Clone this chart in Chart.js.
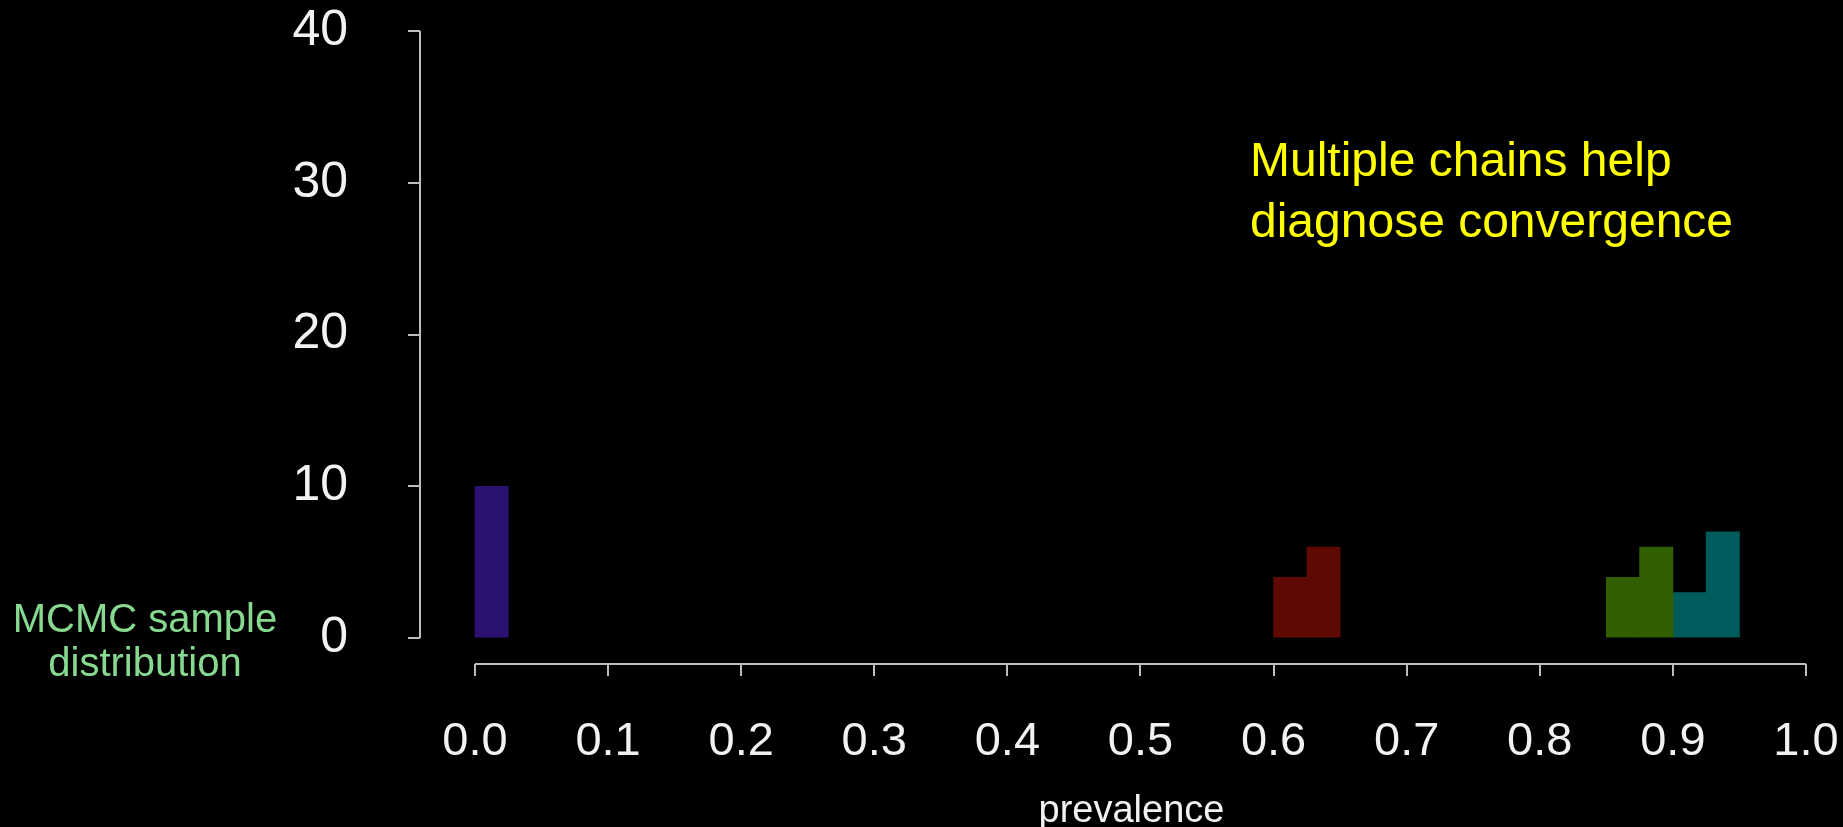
<!DOCTYPE html>
<html>
<head>
<meta charset="utf-8">
<script src="https://cdn.jsdelivr.net/npm/chart.js@4"></script>
<style>
  html, body { margin: 0; padding: 0; background: #000; overflow: hidden; }
  canvas { display: block; }
</style>
</head>
<body>
<canvas id="hist" width="1843" height="827"></canvas>
<script>
// histogram bins (left edges) and counts, one pair per chain
const binWidth = 0.025;
const purpleStarts = [0.0];
const purpleCounts = [10];
const redStarts = [0.6, 0.625];
const redCounts = [4, 6];
const greenStarts = [0.85, 0.875];
const greenCounts = [4, 6];
const tealStarts = [0.9, 0.925];
const tealCounts = [3, 7];

const xTickValues = [0, 0.1, 0.2, 0.3, 0.4, 0.5, 0.6, 0.7, 0.8, 0.9, 1.0];
const yTickValues = [0, 10, 20, 30, 40];

const noteLines = ['Multiple chains help', 'diagnose convergence'];
const sideLines = ['MCMC sample', 'distribution'];

function binsToPoints(starts, counts) {
    return starts.map((s, i) => ({ x: s + binWidth / 2, y: counts[i] }));
}

function chain(starts, counts, color) {
    return {
        data: binsToPoints(starts, counts),
        backgroundColor: color,
        borderWidth: 0,
        barPercentage: 1.0,
        categoryPercentage: 1.0,
        grouped: false
    };
}

// axis lines only over the data range, like base R graphics
const axisLines = {
    id: 'axisLines',
    afterDraw(chart) {
        const ctx = chart.ctx;
        const xs = chart.scales.x, ys = chart.scales.y;
        const area = chart.chartArea;
        ctx.save();
        ctx.strokeStyle = '#bdbdbd';
        ctx.lineWidth = 2;
        ctx.beginPath();
        ctx.moveTo(xs.getPixelForValue(xTickValues[0]), area.bottom);
        ctx.lineTo(xs.getPixelForValue(xTickValues[xTickValues.length - 1]), area.bottom);
        ctx.moveTo(area.left, ys.getPixelForValue(yTickValues[0]));
        ctx.lineTo(area.left, ys.getPixelForValue(yTickValues[yTickValues.length - 1]));
        ctx.stroke();

        ctx.fillStyle = '#ffff00';
        ctx.font = '48px "Liberation Sans", Arial, sans-serif';
        ctx.textAlign = 'left';
        ctx.textBaseline = 'alphabetic';
        ctx.fillText(noteLines[0], 1250, 176);
        ctx.fillText(noteLines[1], 1250, 237);

        ctx.fillStyle = '#86d98f';
        ctx.font = '40px "Liberation Sans", Arial, sans-serif';
        ctx.textAlign = 'center';
        ctx.fillText(sideLines[0], 145, 632);
        ctx.fillText(sideLines[1], 145, 676);
        ctx.restore();
    }
};

new Chart(document.getElementById('hist').getContext('2d'), {
    type: 'bar',
    data: {
        datasets: [
            chain(purpleStarts, purpleCounts, '#2b1270'),
            chain(redStarts, redCounts, '#5e0a02'),
            chain(greenStarts, greenCounts, '#325f00'),
            chain(tealStarts, tealCounts, '#005c5c')
        ]
    },
    options: {
        responsive: false,
        animation: false,
        layout: { padding: 0 },
        plugins: {
            legend: { display: false },
            tooltip: { enabled: false }
        },
        scales: {
            x: {
                type: 'linear',
                min: -0.0413,
                max: 1.0278,
                offset: false,
                border: { display: false },
                grid: {
                    display: true,
                    offset: false,
                    drawOnChartArea: false,
                    drawTicks: true,
                    tickLength: 12,
                    color: '#bdbdbd',
                    lineWidth: 2
                },
                ticks: {
                    autoSkip: false,
                    maxRotation: 0,
                    padding: 38,
                    color: '#f2f2f2',
                    font: { family: '"Liberation Sans", Arial, sans-serif', size: 47 },
                    callback: v => Number(v).toFixed(1)
                },
                title: {
                    display: true,
                    text: 'prevalence',
                    color: '#f2f2f2',
                    padding: { top: 0, bottom: 0 },
                    font: { family: '"Liberation Sans", Arial, sans-serif', size: 38, lineHeight: 0.8 }
                },
                afterBuildTicks: s => { s.ticks = xTickValues.map(v => ({ value: v })); },
                afterFit: s => {
                    s.height = 163;
                    s.paddingLeft = 0;
                    s.paddingRight = 0;
                }
            },
            y: {
                type: 'linear',
                min: -1.71,
                max: 42.04,
                border: { display: false },
                grid: {
                    display: true,
                    drawOnChartArea: false,
                    drawTicks: true,
                    tickLength: 12,
                    color: '#bdbdbd',
                    lineWidth: 2
                },
                ticks: {
                    padding: 60,
                    color: '#f2f2f2',
                    font: { family: '"Liberation Sans", Arial, sans-serif', size: 50 },
                    callback: v => String(v)
                },
                afterBuildTicks: s => { s.ticks = yTickValues.map(v => ({ value: v })); },
                afterFit: s => {
                    s.width = 420;
                    s.paddingTop = 0;
                    s.paddingBottom = 0;
                }
            }
        }
    },
    plugins: [axisLines]
});
</script>
</body>
</html>
